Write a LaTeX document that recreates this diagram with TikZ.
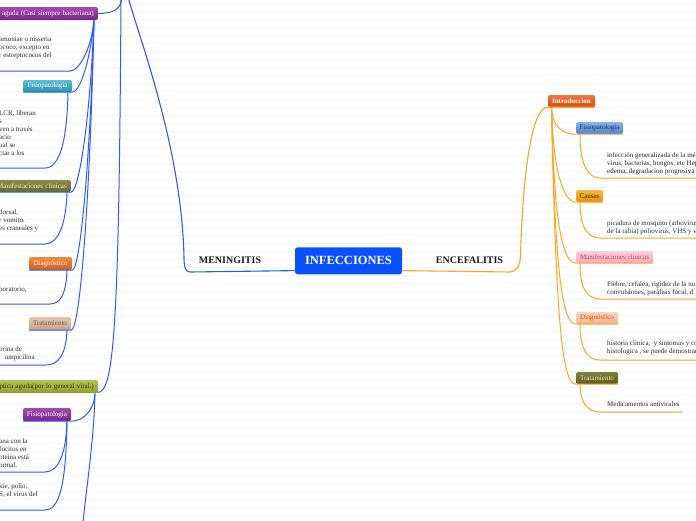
\documentclass[tikz,border=0pt]{standalone}
\usepackage{fontspec}
\setmainfont{Liberation Serif}
\definecolor{bln}{HTML}{2B5BFF}
\definecolor{oln}{HTML}{FFA41F}
\definecolor{infblue}{HTML}{0A50FF}
\definecolor{bodytxt}{HTML}{2A2A2A}
\definecolor{pur1}{HTML}{A24DB0}\definecolor{pur2}{HTML}{7A2488}
\definecolor{teal1}{HTML}{5CC0D4}\definecolor{teal2}{HTML}{2A92AA}
\definecolor{olv1}{HTML}{8E8C4C}\definecolor{olv2}{HTML}{6A6830}\definecolor{olvtxt}{HTML}{ECECCC}
\definecolor{ora1}{HTML}{F08A3A}\definecolor{ora2}{HTML}{D0601A}
\definecolor{tan1}{HTML}{E2C6B0}\definecolor{tan2}{HTML}{C8A288}\definecolor{tantxt}{HTML}{7A5A48}
\definecolor{grn1}{HTML}{B4C24E}\definecolor{grn2}{HTML}{8E9E2E}\definecolor{grntxt}{HTML}{3A3A1A}
\definecolor{red1}{HTML}{F27440}\definecolor{red2}{HTML}{D84A18}
\definecolor{blu1}{HTML}{8AB4EC}\definecolor{blu2}{HTML}{4E82D0}\definecolor{blutxt}{HTML}{1C2C50}
\definecolor{cau1}{HTML}{F8B838}\definecolor{cau2}{HTML}{E89010}\definecolor{cautxt}{HTML}{3A2600}
\definecolor{pnk1}{HTML}{FAD0DC}\definecolor{pnk2}{HTML}{F2A8BE}\definecolor{pnktxt}{HTML}{D2416E}
\definecolor{pch1}{HTML}{F8D4B8}\definecolor{pch2}{HTML}{EDB48E}\definecolor{pchtxt}{HTML}{E4501E}
\definecolor{ol21}{HTML}{80803A}\definecolor{ol22}{HTML}{5C5C20}\definecolor{ol2txt}{HTML}{E8E8C0}
\begin{document}
\begin{tikzpicture}[x=1pt,y=-1pt,
  bl/.style={draw=bln,line width=1pt},
  ol/.style={draw=oln,line width=1pt},
  box/.style={rounded corners=1.5pt,inner sep=0pt,minimum height=12pt,font=\fontsize{7}{8}\selectfont},
  cutbox/.style={box,anchor=east,text width=#1,align=right,inner xsep=4pt},
  body/.style={font=\fontsize{7}{8}\selectfont,inner sep=0pt,anchor=north west,align=left,text=bodytxt},
  shd/.style 2 args={top color=#1,bottom color=#2}]
\useasboundingbox (0,0) rectangle (696,520);
\clip (0,0) rectangle (696,520);
\fill[white] (0,0) rectangle (696,520);
\foreach \k in {0,...,64} {\draw[black!4,line width=0.4pt] (0,{3+8*\k}) -- (696,{3+8*\k});}

% central
\node[fill=infblue,rounded corners=2.5pt,minimum width=107pt,minimum height=27pt,inner sep=0pt,text=white,font=\bfseries\fontsize{12.5}{14}\selectfont] (inf) at (348.5,260.8) {INFECCIONES};
\node[inner sep=0pt,font=\bfseries\fontsize{10}{12}\selectfont,text=black!90] (men) at (230,260.5) {MENINGITIS};
\node[inner sep=0pt,font=\bfseries\fontsize{10}{12}\selectfont,text=black!90] (enc) at (469.5,260.5) {ENCEFALITIS};
\coordinate (infL) at (295.5,270.6);
\coordinate (infR) at (401.5,270.6);
\coordinate (menTop) at (128,-3);

% ---------- left nodes
\node[cutbox=125pt,shd={pur1}{pur2},text=white,minimum height=13pt] (agn) at (98,13.5) {a aguda (Casi siempre bacteriana)};
\node[box,shd={teal1}{teal2},text=white,minimum width=49pt] (fis1) at (47.5,86) {Fisiopatologia};
\node[cutbox=90pt,shd={olv1}{olv2},text=olvtxt] (man1) at (71,186) {Manifestaciones clinicas};
\node[box,shd={ora1}{ora2},text=white,minimum width=43pt,minimum height=13pt] (dia1) at (50.5,263.5) {Diagnóstico};
\node[box,shd={tan1}{tan2},text=tantxt,minimum width=42pt,minimum height=13pt] (tra1) at (50,323.5) {Tratamiento};
\node[cutbox=125pt,shd={grn1}{grn2},text=grntxt,minimum height=13pt] (grn) at (98,386.5) {eptica aguda(por lo general viral.)};
\node[box,shd={pur1}{pur2},text=white,minimum width=48pt,minimum height=13pt] (fis2) at (47,414.5) {Fisiopatologia};

\node[body] (t1) at (-1,36.5) {amoniae o nisseria\\ococo, excepto en\\r estreptococos del};
\node[body] (t2) at (-1,110) {LCR, liberan\\s\\ven a través\\acio\\ual se\\ctar a los};
\node[body] (t3) at (-1,209) {dorsal,\\r vomito.\\es craneales y};
\node[body] (t4) at (-1,286.5) {boratorio,};
\node[body] (t5) at (-1,346.5) {orina de\\\hspace*{6pt}ampicilina};
\node[body] (t6) at (-1,438.5) {ana con la\\focitos en\\oteina está\\ormal.};
\node[body] (t7) at (-1,483.5) {kie, polio,\\S, el virus del};

% ---------- right nodes
\node[box,shd={red1}{red2},text=white,font=\bfseries\fontsize{7}{8}\selectfont,minimum width=47pt] (intro) at (571.5,101) {Introduccion};
\node[box,shd={blu1}{blu2},text=blutxt,minimum width=47pt] (fis3) at (599.5,128) {Fisiopatologia};
\node[box,shd={cau1}{cau2},text=cautxt,minimum width=27pt] (cau) at (589.5,196) {Causas};
\node[box,shd={pnk1}{pnk2},text=pnktxt,minimum width=77pt] (man2) at (614.5,257) {Manifestaciones clinicas};
\node[box,shd={pch1}{pch2},text=pchtxt,minimum width=42pt] (dia2) at (597,318) {Diagnóstico};
\node[box,shd={ol21}{ol22},text=ol2txt,minimum width=42pt] (tra2) at (597,378) {Tratamiento};

\node[body] (r1) at (607,152) {infección generalizada de la mé\\virus, bacterias, hongos, etc Hep\\edema, degradacion progresiva};
\node[body] (r2) at (607,220) {picadura de mosquito (arbovirus\\de la rabia) poliovirus, VHS y v};
\node[body] (r3) at (607,281) {Fiebre, cefalea, rigidez de la nu\\convulsiones, parálisis focal, d};
\node[body] (r4) at (607,340.5) {historia clinica,\ \ y sintomas y co\\histologica , se puede demostrar};
\node[body] (r5) at (607,401) {Medicamentos antivirales};

% ---------- connectors left
\draw[bl,line width=1.1pt] (infL) -- (190,272) .. controls (185.5,272) and (184,267) .. (184,258) .. controls (182,150) and (140,40) .. (menTop);
\coordinate (topA) at (122,-3);
\coordinate (topB) at (121,-3);
\draw[bl] (topA) .. controls (121,9) and (114,13.5) .. (agn.east);
\coordinate (grnR) at (97.5,392.5);
\draw[bl] (topB) .. controls (119,330) and (114,392.5) .. (grnR);

\coordinate (agP) at (94,20.5);
\draw[bl] (agP) .. controls (91,50) and (79,71) .. (70,71) -- (-5,71);
\draw[bl] (agP) .. controls (90,62) and (80,92) .. (fis1.south east) -- (fis1.south west);
\draw[bl] (agP) .. controls (90,120) and (79,192) .. (man1.south east) -- (man1.south west);
\draw[bl] (agP) .. controls (90,165) and (80,270) .. (dia1.south east) -- (dia1.south west);
\draw[bl] (agP) .. controls (90,200) and (80,330) .. (tra1.south east) -- (tra1.south west);

\coordinate (fis1P) at (68,92.5);
\draw[bl] (fis1P) .. controls (67,140) and (60,168) .. (45,168) -- (-5,168);
\coordinate (man1P) at (67,192.5);
\draw[bl] (man1P) .. controls (66,225) and (58,244) .. (45,244) -- (-5,244);
\coordinate (dia1P) at (67,270.5);
\draw[bl] (dia1P) .. controls (66,295) and (60,304) .. (50,304) -- (-5,304);
\coordinate (tra1P) at (67,330.5);
\draw[bl] (tra1P) .. controls (66,355) and (58,365) .. (46,365) -- (-5,365);

\coordinate (grnP) at (95,393.5);
\coordinate (botA) at (83,523);
\draw[bl] (grnP) .. controls (94,440) and (86,490) .. (botA);
\draw[bl] (grnP) .. controls (94,410) and (84,421) .. (fis2.south east) -- (fis2.south west);
\coordinate (fis2P) at (67,421.5);
\draw[bl] (fis2P) .. controls (66,455) and (58,472) .. (45,472) -- (-5,472);
\draw[bl] (fis2P) .. controls (66,490) and (58,510) .. (45,510) -- (-5,510);

% ---------- connectors right
\draw[ol,line width=1.1pt] (infR) -- (510,272) .. controls (515,272) and (520,267) .. (520.5,256) .. controls (523,170) and (532,107) .. (intro.south west) -- (intro.south east);
\coordinate (introP) at (551.5,107.5);
\draw[ol] (introP) .. controls (552,124) and (560,134) .. (fis3.south west) -- (fis3.south east);
\draw[ol] (introP) .. controls (553,165) and (562,202) .. (cau.south west) -- (cau.south east);
\draw[ol] (introP) .. controls (554,220) and (562,263) .. (man2.south west) -- (man2.south east);
\draw[ol] (introP) .. controls (555,270) and (562,324) .. (dia2.south west) -- (dia2.south east);
\draw[ol] (introP) .. controls (556,320) and (562,384) .. (tra2.south west) -- (tra2.south east);

\coordinate (fis3P) at (580,134.5);
\draw[ol] (fis3P) .. controls (580,165) and (588,178) .. (600,178) -- (700,178);
\coordinate (cauP) at (580,202.5);
\draw[ol] (cauP) .. controls (580,228) and (588,238) .. (600,238) -- (700,238);
\coordinate (man2P) at (580,263.5);
\draw[ol] (man2P) .. controls (580,290) and (588,299) .. (600,299) -- (700,299);
\coordinate (dia2P) at (580,324.5);
\draw[ol] (dia2P) .. controls (580,350) and (588,360) .. (600,360) -- (700,360);
\coordinate (tra2P) at (580,384.5);
\draw[ol] (tra2P) .. controls (580,403) and (588,412) .. (600,412) -- (683,412);
\end{tikzpicture}
\end{document}
